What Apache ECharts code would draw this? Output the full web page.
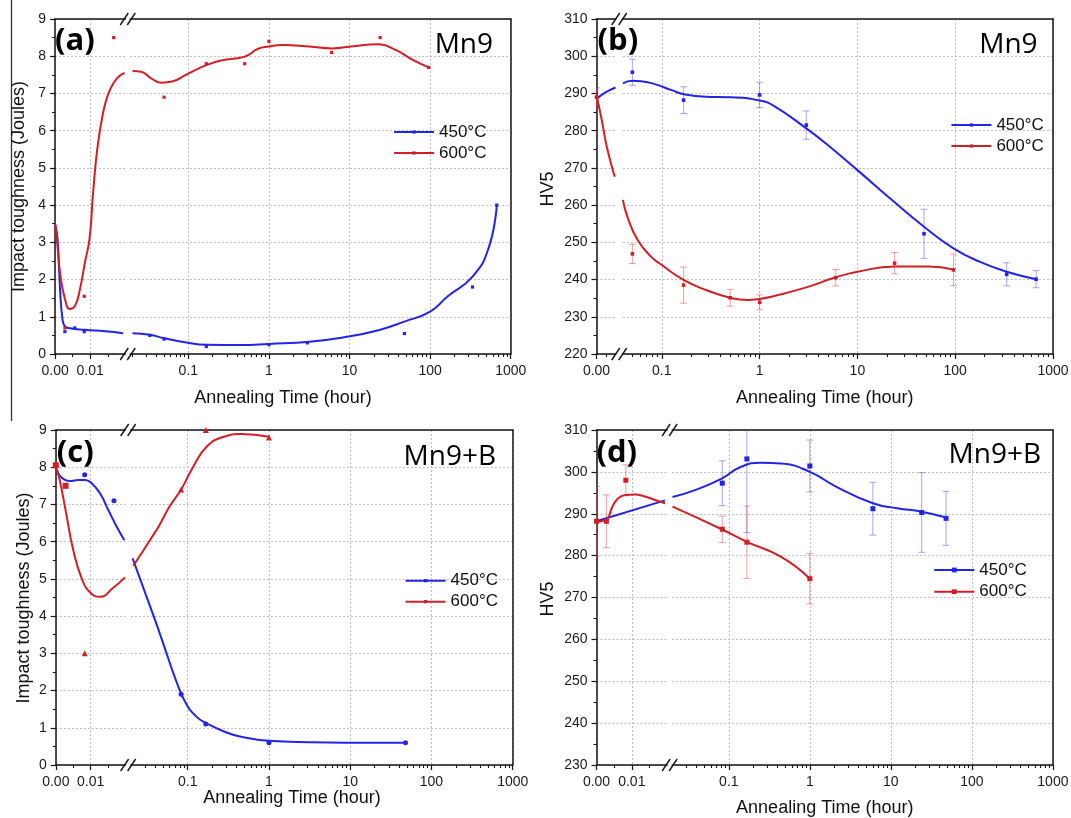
<!DOCTYPE html>
<html><head><meta charset="utf-8">
<script src="https://cdn.jsdelivr.net/npm/echarts@6/dist/echarts.min.js"></script>
<style>html,body{margin:0;padding:0;background:#fff}#chart{width:1071px;height:818px}</style>
</head><body><div id="chart"></div>
<script>
// ================= DATA =================
// times in hours; the x axis is broken: linear 0..0.02 h, then log 0.02..1000 h
// ---- (a) Mn9, impact toughness (J)
const aPts450T = [0.0028, 0.0056, 0.0083, 0.0333, 0.05, 0.167, 1, 3, 48, 336, 672];
const aPts450V = [0.6, 0.7, 0.6, 0.5, 0.4, 0.2, 0.25, 0.3, 0.55, 1.8, 4.0];
const aPts600T = [0.0028, 0.0083, 0.0167, 0.05, 0.167, 0.5, 1, 6, 24, 96];
const aPts600V = [0.7, 1.55, 8.5, 6.9, 7.8, 7.8, 8.4, 8.1, 8.5, 7.7];
const aFit450T = [0, 0.0007, 0.0014, 0.0021, 0.0028, 0.0042, 0.0085, 0.0142, 0.0194, 0.0203, 0.0334, 0.0489, 0.095, 0.169, 0.449, 1, 3.2, 8.6, 22.9, 48, 100, 163, 336, 531, 672];
const aFit450V = [3.5, 3.09, 1.75, 0.94, 0.74, 0.69, 0.65, 0.61, 0.56, 0.56, 0.52, 0.43, 0.31, 0.25, 0.24, 0.27, 0.33, 0.45, 0.64, 0.87, 1.14, 1.54, 2.08, 2.84, 4.0];
const aFit600T = [0, 0.0005, 0.0014, 0.0028, 0.0042, 0.0057, 0.0071, 0.0085, 0.0098, 0.0108, 0.012, 0.0135, 0.015, 0.0168, 0.0185, 0.0198, 0.0203, 0.026, 0.0349, 0.0469, 0.063, 0.093, 0.167, 0.275, 0.5, 0.735, 1, 1.46, 3.2, 6, 10.4, 22.9, 37.4, 61, 96];
const aFit600V = [3.5, 3.09, 2.19, 1.48, 1.21, 1.3, 1.75, 2.46, 3.09, 4.3, 5.5, 6.4, 6.95, 7.3, 7.48, 7.55, 7.6, 7.58, 7.4, 7.29, 7.32, 7.5, 7.76, 7.9, 7.99, 8.2, 8.26, 8.3, 8.26, 8.21, 8.26, 8.32, 8.17, 7.9, 7.7];
// ---- (b) Mn9, hardness HV5 (value, +/- error)
const bPts450T = [0.05, 0.167, 1, 3, 48, 336, 672];
const bPts450V = [295.7, 288.2, 289.6, 281.5, 252.3, 241.4, 240.1];
const bPts450E = [3.5, 3.6, 3.4, 3.8, 6.6, 3.1, 2.3];
const bPts600T = [0, 0.05, 0.167, 0.5, 1, 6, 24, 96];
const bPts600V = [289, 246.9, 238.5, 235.1, 233.9, 240.5, 244.4, 242.6];
const bPts600E = [2.5, 2.6, 4.85, 2.25, 2.0, 2.2, 2.85, 4.25];
const bFit450T = [0, 0.007, 0.014, 0.02, 0.04, 0.05, 0.061, 0.0846, 0.126, 0.167, 0.282, 0.497, 1, 1.41, 3, 4.73, 10, 23.7, 48, 96, 177, 336, 672];
const bFit450V = [288.5, 289.9, 290.9, 291.6, 292.7, 293.4, 293.3, 292.5, 290.9, 289.8, 289.1, 289.0, 288.1, 286.6, 280.6, 276.6, 269.4, 260.9, 254.2, 248.4, 244.8, 242.1, 240.1];
const bFit600T = [0, 0.0055, 0.0108, 0.0192, 0.04, 0.0444, 0.0566, 0.078, 0.1, 0.167, 0.282, 0.5, 0.743, 1, 1.41, 3, 6, 10, 24, 53, 96];
const bFit600V = [289.6, 282.9, 275.7, 267.6, 261.4, 256.9, 250.6, 246.1, 243.9, 239.9, 237.2, 235.1, 234.5, 234.8, 235.6, 237.9, 240.6, 242.1, 243.5, 243.5, 242.7];
// ---- (c) Mn9+B, impact toughness (J)
const cPts450T = [0.0083, 0.0167, 0.083, 0.167, 1, 48];
const cPts450V = [7.8, 7.1, 1.9, 1.1, 0.6, 0.6];
const cPts600T = [0, 0.0028, 0.0083, 0.083, 0.167, 1];
const cPts600V = [8.05, 7.5, 3.0, 7.4, 9.0, 8.8];
const cFit450T = [0.0005, 0.0009, 0.0026, 0.0041, 0.0065, 0.0084, 0.0103, 0.0127, 0.0151, 0.0175, 0.0197, 0.021, 0.0396, 0.053, 0.071, 0.095, 0.128, 0.171, 0.279, 0.453, 1, 3.2, 8.5, 48];
const cFit450V = [7.9, 7.8, 7.66, 7.63, 7.66, 7.66, 7.57, 7.3, 6.85, 6.4, 6.04, 5.55, 3.9, 3.1, 2.3, 1.66, 1.3, 1.12, 0.9, 0.76, 0.65, 0.61, 0.6, 0.6];
const cFit600T = [0, 0.0009, 0.003, 0.005, 0.0075, 0.01, 0.0127, 0.0165, 0.0199, 0.0214, 0.0343, 0.045, 0.06, 0.083, 0.116, 0.171, 0.279, 0.453, 1];
const cFit600V = [8.0, 7.75, 6.75, 5.78, 5.0, 4.62, 4.52, 4.76, 5.04, 5.35, 6.04, 6.45, 6.95, 7.4, 8.0, 8.55, 8.82, 8.89, 8.82];
// ---- (d) Mn9+B, hardness HV5
const dPts450T = [0.083, 0.167, 1, 6, 24, 48];
const dPts450V = [297.3, 303.1, 301.4, 291.2, 290.3, 288.9];
const dPts450E = [5.35, 17.6, 6.2, 6.3, 9.5, 6.45];
const dPts600T = [0, 0.0028, 0.0083, 0.083, 0.167, 1];
const dPts600V = [288.2, 288.2, 298.0, 286.3, 283.2, 274.5];
const dPts600E = [8.35, 6.3, 3.7, 3.15, 8.65, 6.05];
const dFit450T = [0, 0.0194, 0.0202, 0.039, 0.0817, 0.138, 0.247, 0.443, 1, 2.1, 6, 12, 24, 48];
const dFit450V = [288.2, 293.2, 294.0, 295.7, 298.4, 301.1, 302.2, 302.0, 300.0, 296.5, 292.5, 291.3, 290.5, 289.1];
const dFit600T = [0, 0.0029, 0.0043, 0.0057, 0.0081, 0.0109, 0.0137, 0.0166, 0.0194, 0.0202, 0.0817, 0.167, 0.443, 1];
const dFit600V = [288.1, 288.7, 291.3, 293.3, 294.5, 294.6, 294.1, 293.3, 292.5, 291.7, 286.3, 283.3, 279.7, 274.5];
// ---- ticks / labels
const seriesNames = ['450°C', '600°C'];
const linMajorTicks = [0, 0.01];
const linMinorTicks = [0.005, 0.015];
const linMajorTicksB = [0];
const linMinorTicksB = [0.01];
const logMajorTicks = [0.1, 1, 10, 100, 1000];
const logMinorTicks = [];
[0.01, 0.1, 1, 10, 100].forEach(d => { for (let k = 2; k <= 9; k++) logMinorTicks.push(+(k * d).toPrecision(3)); });
const BRK = 0.02; // end of linear segment

// ================= STYLE / LAYOUT =================
const FONT = '"Liberation Sans", Arial, sans-serif';
const AX = '#151515';
const BLUE = '#2424e6', RED = '#cf2027';
const EBLUE = 'rgba(80,80,235,0.5)', ERED = 'rgba(215,70,70,0.5)';
const gridLine = { show: true, lineStyle: { color: '#bcbcbc', width: 1, type: [2, 2] } };

const panels = [
  { top: 19, height: 335, L: [55.1, 70.2], R: [130.2, 380.5], rMin: 0.019, y: [0, 9, 1],
    lin: [linMajorTicks, linMinorTicks], leg: [393, 123.5, 4, 4], brk: 127.75,
    label: ['(a)', 55, 41], tag: ['Mn9', 493, 45], xt: [283, 398], yt: ['Impact toughness (Joules)', 19.5, 186.5],
    sets: [
      { fT: aFit450T, fV: aFit450V, pT: aPts450T, pV: aPts450V, sym: 'rect', size: 3.2 },
      { fT: aFit600T, fV: aFit600V, pT: aPts600T, pV: aPts600V, sym: 'rect', size: 3.2 } ] },
  { top: 19, height: 335, L: [596.5, 19], R: [622.9, 430.1], rMin: 0.04, y: [220, 310, 10],
    lin: [linMajorTicksB, linMinorTicksB], leg: [950.4, 116.5, 4, 4], brk: 619.2,
    label: ['(b)', 597.6, 41], tag: ['Mn9', 1037.6, 45], xt: [824.8, 398], yt: ['HV5', 548, 189],
    sets: [
      { fT: bFit450T, fV: bFit450V, pT: bPts450T, pV: bPts450V, pE: bPts450E, sym: 'rect', size: 3.6 },
      { fT: bFit600T, fV: bFit600V, pT: bPts600T, pV: bPts600V, pE: bPts600E, sym: 'rect', size: 3.6 } ] },
  { top: 430, height: 335, L: [55.8, 69.6], R: [130.9, 381.8], rMin: 0.02, y: [0, 9, 1],
    lin: [linMajorTicks, linMinorTicks], leg: [404.6, 572.2, 4, 4], brk: 128.15,
    label: ['(c)', 56.8, 453], tag: ['Mn9+B', 496, 457], xt: [292, 798], yt: ['Impact toughness (Joules)', 23.6, 598],
    sets: [
      { fT: cFit450T, fV: cFit450V, pT: cPts450T, pV: cPts450V, sym: 'circle', size: 5 },
      { fT: cFit600T, fV: cFit600V, pT: cPts600T, pV: cPts600V, sym: v => (v[0] < 0.005 ? 'rect' : 'triangle'), size: 6 } ] },
  { top: 430, height: 335, L: [596.5, 70.6], R: [672.2, 380.7], rMin: 0.02, y: [230, 310, 10],
    lin: [linMajorTicks, linMinorTicks], leg: [933.3, 561.5, 6, 4.7], brk: 669.65,
    label: ['(d)', 596.5, 453], tag: ['Mn9+B', 1041, 455], xt: [824.8, 808], yt: ['HV5', 548, 599],
    sets: [
      { fT: dFit450T, fV: dFit450V, pT: dPts450T, pV: dPts450V, pE: dPts450E, sym: 'rect', size: 5 },
      { fT: dFit600T, fV: dFit600V, pT: dPts600T, pV: dPts600V, pE: dPts600E, sym: 'rect', size: 5 } ] }
];

const option = { animation: false, backgroundColor: '#fff', grid: [], xAxis: [], yAxis: [], legend: [], series: [], graphic: [] };
const lineSeries = [], otherSeries = [];
const labelStyle = { fontFamily: FONT, fontSize: 14, color: '#1a1a1a' };

function xMain(g, type, min, max, ticks, fmt) {
  return { gridIndex: g, type, min, max, position: 'bottom',
    axisLine: { show: true, onZero: false, lineStyle: { color: AX, width: 1.5 } },
    axisTick: { show: true, length: 5, inside: false, customValues: ticks, lineStyle: { color: AX, width: 1.2 } },
    axisLabel: Object.assign({ show: true, customValues: ticks, margin: 10, formatter: fmt }, labelStyle),
    splitLine: gridLine, minorTick: { show: false } };
}
function xMinor(g, type, min, max, ticks) {
  return { gridIndex: g, type, min, max, position: 'bottom',
    axisLine: { show: false, onZero: false }, axisLabel: { show: false }, splitLine: { show: false },
    axisTick: { show: true, length: 3, customValues: ticks, lineStyle: { color: AX, width: 1.1 } } };
}
function xTop(g) {
  return { gridIndex: g, type: 'value', min: 0, max: 1, position: 'top',
    axisLine: { show: true, onZero: false, lineStyle: { color: AX, width: 1.5 } },
    axisTick: { show: false }, axisLabel: { show: false }, splitLine: { show: false } };
}

panels.forEach((p, pi) => {
  const gL = pi * 2, gR = gL + 1;
  option.grid.push({ left: p.L[0], top: p.top, width: p.L[1], height: p.height, outerBoundsMode: 'none' });
  option.grid.push({ left: p.R[0], top: p.top, width: p.R[1], height: p.height, outerBoundsMode: 'none' });
  const linTicks = p.lin[0];
  option.xAxis.push(xMain(gL, 'value', 0, BRK, linTicks, v => Number(v).toFixed(2)));
  option.xAxis.push(xMinor(gL, 'value', 0, BRK, p.lin[1]));
  option.xAxis.push(xTop(gL));
  option.xAxis.push(xMain(gR, 'log', p.rMin, 1000, logMajorTicks, v => String(+Number(v).toPrecision(3))));
  option.xAxis.push(xMinor(gR, 'log', p.rMin, 1000, logMinorTicks.filter(v => v > p.rMin && v < 1000)));
  option.xAxis.push(xTop(gR));
  option.yAxis.push({ gridIndex: gL, type: 'value', min: p.y[0], max: p.y[1], interval: p.y[2], position: 'left',
    axisLine: { show: true, onZero: false, lineStyle: { color: AX, width: 1.5 } },
    axisTick: { show: true, length: 5, lineStyle: { color: AX, width: 1.2 } },
    minorTick: { show: true, splitNumber: 2, length: 3, lineStyle: { color: AX, width: 1.1 } },
    axisLabel: Object.assign({ show: true, margin: 9 }, labelStyle),
    splitLine: gridLine });
  option.yAxis.push({ gridIndex: gR, type: 'value', min: p.y[0], max: p.y[1], interval: p.y[2], position: 'right',
    axisLine: { show: true, onZero: false, lineStyle: { color: AX, width: 1.5 } },
    axisTick: { show: false }, axisLabel: { show: false }, splitLine: gridLine });

  p.sets.forEach((s, si) => {
    const color = si === 0 ? BLUE : RED, ecolor = si === 0 ? EBLUE : ERED;
    const name = seriesNames[si];
    const fit = s.fT.map((t, i) => [t, s.fV[i]]);
    const pts = s.pT.map((t, i) => [t, s.pV[i]]);
    const err = s.pE ? s.pT.map((t, i) => [t, s.pV[i] - s.pE[i], s.pV[i] + s.pE[i]]) : null;
    [[gL, d => d[0] <= BRK], [gR, d => d[0] > BRK]].forEach(([g, inSeg]) => {
      const fd = fit.filter(inSeg), pd = pts.filter(inSeg);
      if (fd.length) lineSeries.push({ type: 'line', name, xAxisIndex: g * 3, yAxisIndex: g, data: fd,
        smooth: 0.5, showSymbol: false, symbol: 'rect', symbolSize: 4, silent: true, z: 3,
        lineStyle: { color, width: 2 }, itemStyle: { color } });
      if (err) {
        const ed = err.filter(inSeg);
        if (ed.length) otherSeries.push({ type: 'custom', xAxisIndex: g * 3, yAxisIndex: g, data: ed, clip: true, silent: true, z: 2,
          encode: { x: 0, y: [1, 2] },
          renderItem: (params, api) => {
            const x = api.value(0);
            const a = api.coord([x, api.value(2)]), b = api.coord([x, api.value(1)]);
            const w = 3.5, st = { stroke: ecolor, lineWidth: 1 };
            return { type: 'group', children: [
              { type: 'line', shape: { x1: a[0], y1: a[1], x2: b[0], y2: b[1] }, style: st },
              { type: 'line', shape: { x1: a[0] - w, y1: a[1], x2: a[0] + w, y2: a[1] }, style: st },
              { type: 'line', shape: { x1: b[0] - w, y1: b[1], x2: b[0] + w, y2: b[1] }, style: st } ] };
          } });
      }
      if (pd.length) otherSeries.push({ type: 'scatter', xAxisIndex: g * 3, yAxisIndex: g, data: pd, clip: true, silent: true, z: 4,
        symbol: s.sym, symbolSize: s.size, itemStyle: { color, opacity: 1 } });
    });
  });

  option.legend.push({ data: seriesNames, orient: 'vertical', left: p.leg[0], top: p.leg[1], itemWidth: 40,
    itemHeight: p.leg[2], itemGap: p.leg[3], padding: 0, selectedMode: false,
    textStyle: { fontFamily: FONT, fontSize: 17, color: '#111' } });

  const bottom = p.top + p.height;
  [p.top, bottom].forEach(yy => [-3.5, 3.5].forEach(off => option.graphic.push({ type: 'line', silent: true, z: 100,
    shape: { x1: p.brk + off - 4, y1: yy + 6, x2: p.brk + off + 4, y2: yy - 6 }, style: { stroke: AX, lineWidth: 1.4 } })));
  option.graphic.push({ type: 'text', x: p.label[1], y: p.label[2], z: 100, silent: true,
    style: { text: p.label[0], fontFamily: '"Open Sans", sans-serif', fontWeight: 'bold', fontSize: 31, fill: '#000', align: 'left', verticalAlign: 'middle', textAlign: 'left', textVerticalAlign: 'middle' } });
  option.graphic.push({ type: 'text', x: p.tag[1], y: p.tag[2], z: 100, silent: true,
    style: { text: p.tag[0], fontFamily: '"Open Sans", sans-serif', fontSize: 28, fill: '#000', align: 'right', verticalAlign: 'middle', textAlign: 'right', textVerticalAlign: 'middle' } });
  option.graphic.push({ type: 'text', x: p.xt[0], y: p.xt[1], z: 100, silent: true,
    style: { text: 'Annealing Time (hour)', fontFamily: FONT, fontSize: 18, fill: '#111', align: 'center', verticalAlign: 'middle', textAlign: 'center', textVerticalAlign: 'middle' } });
  option.graphic.push({ type: 'text', x: p.yt[1], y: p.yt[2], rotation: Math.PI / 2, z: 100, silent: true,
    style: { text: p.yt[0], fontFamily: FONT, fontSize: 18, fill: '#111', align: 'center', verticalAlign: 'middle', textAlign: 'center', textVerticalAlign: 'middle' } });
});
option.graphic.push({ type: 'line', silent: true, shape: { x1: 11.5, y1: 0, x2: 11.5, y2: 421 }, style: { stroke: '#333', lineWidth: 1.3 } });
option.series = lineSeries.concat(otherSeries);

const chart = echarts.init(document.getElementById('chart'), null, { renderer: 'canvas' });
chart.setOption(option);
</script></body></html>
